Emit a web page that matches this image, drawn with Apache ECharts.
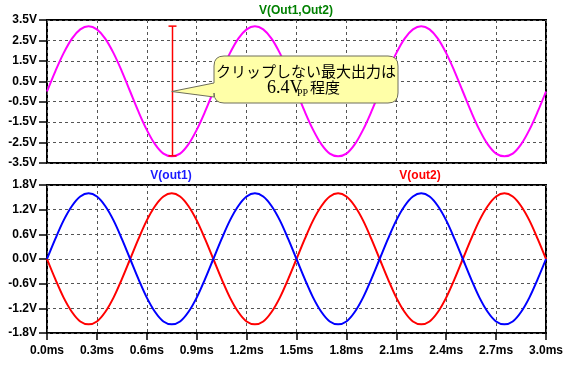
<!DOCTYPE html>
<html><head><meta charset="utf-8">
<script src="https://cdn.jsdelivr.net/npm/echarts@6/dist/echarts.min.js"></script>
<style>html,body{margin:0;padding:0;background:#fff}#c{width:570px;height:365px}</style>
</head><body><div id="c"></div>
<script>
// time in ms
var timeMs = [0,0.05,0.1,0.15,0.2,0.25,0.3,0.35,0.4,0.45,0.5,0.55,0.6,0.65,0.7,0.75,0.8,0.85,0.9,0.95,
1,1.05,1.1,1.15,1.2,1.25,1.3,1.35,1.4,1.45,1.5,1.55,1.6,1.65,1.7,1.75,1.8,1.85,1.9,1.95,
2,2.05,2.1,2.15,2.2,2.25,2.3,2.35,2.4,2.45,2.5,2.55,2.6,2.65,2.7,2.75,2.8,2.85,2.9,2.95,3];
var vDiff = [0,0.99,1.88,2.59,3.04,3.2,3.04,2.59,1.88,0.99,0,-0.99,-1.88,-2.59,-3.04,-3.17,-3.04,-2.59,-1.88,-0.99,
0,0.99,1.88,2.59,3.04,3.2,3.04,2.59,1.88,0.99,0,-0.99,-1.88,-2.59,-3.04,-3.17,-3.04,-2.59,-1.88,-0.99,
0,0.99,1.88,2.59,3.04,3.2,3.04,2.59,1.88,0.99,0,-0.99,-1.88,-2.59,-3.04,-3.17,-3.04,-2.59,-1.88,-0.99,0];
var vOut1 = [0,0.49,0.94,1.29,1.52,1.6,1.52,1.29,0.94,0.49,0,-0.49,-0.94,-1.29,-1.52,-1.59,-1.52,-1.29,-0.94,-0.49,
0,0.49,0.94,1.29,1.52,1.6,1.52,1.29,0.94,0.49,0,-0.49,-0.94,-1.29,-1.52,-1.59,-1.52,-1.29,-0.94,-0.49,
0,0.49,0.94,1.29,1.52,1.6,1.52,1.29,0.94,0.49,0,-0.49,-0.94,-1.29,-1.52,-1.59,-1.52,-1.29,-0.94,-0.49,0];
var vOut2 = [0,-0.49,-0.94,-1.29,-1.52,-1.59,-1.52,-1.29,-0.94,-0.49,0,0.49,0.94,1.29,1.52,1.6,1.52,1.29,0.94,0.49,
0,-0.49,-0.94,-1.29,-1.52,-1.59,-1.52,-1.29,-0.94,-0.49,0,0.49,0.94,1.29,1.52,1.6,1.52,1.29,0.94,0.49,
0,-0.49,-0.94,-1.29,-1.52,-1.59,-1.52,-1.29,-0.94,-0.49,0,0.49,0.94,1.29,1.52,1.6,1.52,1.29,0.94,0.49,0];
// annotation: peak-to-peak bar and callout anchor
var ppBar = [[0.75, 3.2, -3.15]];
var calloutAnchor = [[0.75, 0]];

function pairs(t, v){ var r=[]; for (var i=0;i<t.length;i++) r.push([t[i], v[i]]); return r; }

var FONT = '"Liberation Sans", Arial, sans-serif';
var CJK = '"Noto Sans CJK JP", sans-serif';
var SERIF = '"Liberation Serif", "Times New Roman", serif';
var labelStyle = {color:'#000', fontFamily:FONT, fontWeight:'bold', fontSize:12};
var gridLine = {show:true, lineStyle:{color:'#555', type:[3,3], width:1}};

var chart = echarts.init(document.getElementById('c'), null, {renderer:'canvas'});
var option = {
  animation:false,
  backgroundColor:'#fff',
  grid:[
    {left:47, right:24, top:20, height:143, show:true, borderColor:'#000', borderWidth:2, backgroundColor:'transparent'},
    {left:47, right:24, top:185, height:148, show:true, borderColor:'#000', borderWidth:2, backgroundColor:'transparent'}
  ],
  xAxis:[
    {type:'value', gridIndex:0, min:0, max:3, interval:0.3, axisLabel:{show:false}, axisTick:{show:false}, axisLine:{show:false, onZero:false}, splitLine:gridLine},
    {type:'value', gridIndex:1, min:0, max:3, interval:0.3,
     axisLabel:Object.assign({margin:12, formatter:function(v){return v.toFixed(1)+'ms';}}, labelStyle),
     axisTick:{show:true, length:7, lineStyle:{color:'#000', width:1.5}}, axisLine:{show:false, onZero:false}, splitLine:gridLine}
  ],
  yAxis:[
    {type:'value', gridIndex:0, min:-3.5, max:3.5, interval:1,
     axisLabel:Object.assign({margin:10, formatter:function(v){return v.toFixed(1)+'V';}}, labelStyle),
     axisTick:{show:true, length:8, lineStyle:{color:'#000', width:1.5}}, axisLine:{show:false, onZero:false}, splitLine:gridLine},
    {type:'value', gridIndex:1, min:-1.8, max:1.8, interval:0.6,
     axisLabel:Object.assign({margin:10, formatter:function(v){return v.toFixed(1)+'V';}}, labelStyle),
     axisTick:{show:true, length:8, lineStyle:{color:'#000', width:1.5}}, axisLine:{show:false, onZero:false}, splitLine:gridLine}
  ],
  series:[
    {name:'V(Out1,Out2)', type:'line', xAxisIndex:0, yAxisIndex:0, data:pairs(timeMs, vDiff), showSymbol:false, smooth:0.35,
     lineStyle:{color:'#ff00ff', width:2}},
    {name:'V(out2)', type:'line', xAxisIndex:1, yAxisIndex:1, data:pairs(timeMs, vOut2), showSymbol:false, smooth:0.35,
     lineStyle:{color:'#ff0000', width:2}},
    {name:'V(out1)', type:'line', xAxisIndex:1, yAxisIndex:1, data:pairs(timeMs, vOut1), showSymbol:false, smooth:0.35,
     lineStyle:{color:'#0000ff', width:2}},
    {type:'custom', xAxisIndex:0, yAxisIndex:0, data:ppBar, z:5, clip:false,
     renderItem:function(params, api){
       var top = api.coord([api.value(0), api.value(1)]);
       var bot = api.coord([api.value(0), api.value(2)]);
       var x = Math.round(top[0])+0.5, hw = 4;
       var st = {stroke:'#ff0000', lineWidth:1.5};
       return {type:'group', children:[
         {type:'line', shape:{x1:x, y1:top[1], x2:x, y2:bot[1]}, style:st},
         {type:'line', shape:{x1:x-hw, y1:top[1], x2:x+hw, y2:top[1]}, style:st},
         {type:'line', shape:{x1:x-hw, y1:bot[1], x2:x+hw, y2:bot[1]}, style:st}
       ]};
     }},
    {type:'custom', xAxisIndex:0, yAxisIndex:0, data:calloutAnchor, z:20, clip:false,
     renderItem:function(params, api){
       var tip = api.coord([api.value(0), api.value(1)]);
       var L=214, T=56, R=398, B=103, r=10;
       var pd = 'M'+(L+r)+','+T+' L'+(R-r)+','+T+' Q'+R+','+T+' '+R+','+(T+r)+' L'+R+','+(B-r)+' Q'+R+','+B+' '+(R-r)+','+B+
         ' L'+(L+r)+','+B+' Q'+L+','+B+' '+L+','+(B-r)+' L'+L+',97 L'+tip[0]+','+tip[1]+' L'+L+',83 L'+L+','+(T+r)+' Q'+L+','+T+' '+(L+r)+','+T+' Z';
       return {type:'group', children:[
         {type:'path', shape:{pathData:pd}, style:{fill:'#ffffa8', stroke:'#6e6e5a', lineWidth:1}},
         {type:'text', x:306, y:71, style:{text:'クリップしない最大出力は', fill:'#000', font:'15px '+CJK, align:'center', verticalAlign:'middle'}},
         {type:'text', x:267, y:88, style:{text:'6.4V', fill:'#000', font:'18px '+SERIF, align:'left', verticalAlign:'middle'}},
         {type:'text', x:297, y:93, style:{text:'PP', fill:'#000', font:'10px '+SERIF, align:'left', verticalAlign:'middle'}},
         {type:'text', x:310, y:87, style:{text:'程度', fill:'#000', font:'15px '+CJK, align:'left', verticalAlign:'middle'}}
       ]};
     }}
  ],
  graphic:[
    {type:'text', x:296, y:11, style:{text:'V(Out1,Out2)', fill:'#008000', font:'bold 12px '+FONT, align:'center', verticalAlign:'middle'}, z:10},
    {type:'text', x:171, y:176, style:{text:'V(out1)', fill:'#1a1aff', font:'bold 12px '+FONT, align:'center', verticalAlign:'middle'}, z:10},
    {type:'text', x:420, y:176, style:{text:'V(out2)', fill:'#ff0000', font:'bold 12px '+FONT, align:'center', verticalAlign:'middle'}, z:10}
  ]
};
chart.setOption(option);
</script></body></html>
